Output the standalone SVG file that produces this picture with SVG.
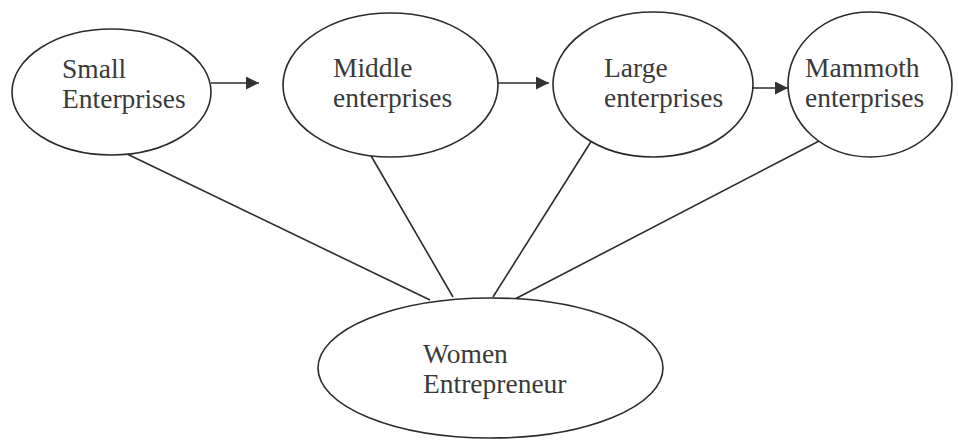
<svg xmlns="http://www.w3.org/2000/svg" width="959" height="440" viewBox="0 0 959 440">
<defs>
<marker id="arr" viewBox="0 0 13 13" refX="13" refY="6.5" markerWidth="13" markerHeight="13" markerUnits="userSpaceOnUse" orient="auto">
<path d="M0,0 L13,6.5 L0,13 Z" fill="#333"/>
</marker>
<style>
.n{fill:#fff;stroke:#2b2b2b;stroke-width:1.6}
.t{font-family:"Liberation Serif","Times New Roman",serif;font-size:27.5px;fill:#3a3a3a}
.c line{stroke:#2b2b2b;stroke-width:1.6}
</style>
</defs>
<rect width="959" height="440" fill="#fff"/>
<g class="c" id="connectors">
<line x1="211" y1="83" x2="259" y2="83" marker-end="url(#arr)"/>
<line x1="498" y1="83" x2="549" y2="83" marker-end="url(#arr)"/>
<line x1="753" y1="88" x2="788" y2="88" marker-end="url(#arr)"/>
<line x1="125" y1="153" x2="430" y2="300"/>
<line x1="370" y1="154" x2="453" y2="297"/>
<line x1="592" y1="140" x2="493" y2="297"/>
<line x1="823" y1="139" x2="515" y2="299"/>
</g>
<g id="small">
<ellipse class="n" cx="111.5" cy="92" rx="99.5" ry="63"/>
<text class="t" x="62" y="78">Small</text>
<text class="t" x="62" y="108">Enterprises</text>
</g>
<g id="middle">
<ellipse class="n" cx="390.5" cy="85" rx="107.5" ry="72"/>
<text class="t" x="333" y="77">Middle</text>
<text class="t" x="333" y="107">enterprises</text>
</g>
<g id="large">
<ellipse class="n" cx="653" cy="84.5" rx="100" ry="72.5"/>
<text class="t" x="604" y="77">Large</text>
<text class="t" x="604" y="107">enterprises</text>
</g>
<g id="mammoth">
<ellipse class="n" cx="870" cy="84.5" rx="82" ry="72.5"/>
<text class="t" x="805" y="77">Mammoth</text>
<text class="t" x="805" y="107">enterprises</text>
</g>
<g id="women">
<ellipse class="n" cx="490.5" cy="368" rx="172.5" ry="70"/>
<text class="t" x="423" y="363">Women</text>
<text class="t" x="423" y="393">Entrepreneur</text>
</g>
</svg>
